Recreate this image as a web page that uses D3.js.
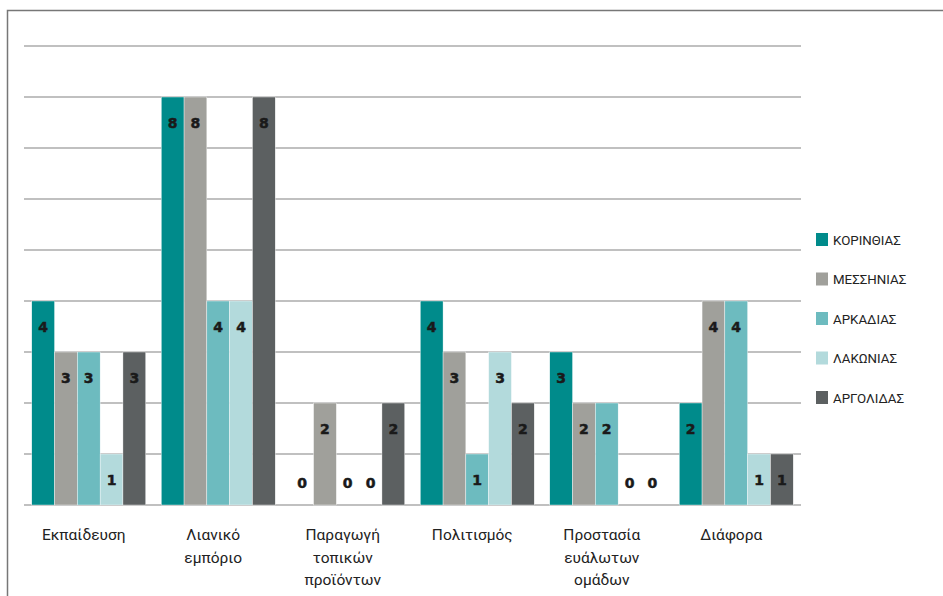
<!DOCTYPE html>
<html>
<head>
<meta charset="utf-8">
<script src="https://cdn.jsdelivr.net/npm/d3@7"></script>
<style>
  body { margin: 0; background: #fff; }
  svg { display: block; }
</style>
</head>
<body>
<div id="chart"></div>
<script>
var width = 943;
var height = 596;

// data
var categories = ["Εκπαίδευση", "Λιανικό εμπόριο", "Παραγωγή τοπικών προϊόντων", "Πολιτισμός", "Προστασία ευάλωτων ομάδων", "Διάφορα"];
var categoryLines = [["Εκπαίδευση"], ["Λιανικό", "εμπόριο"], ["Παραγωγή", "τοπικών", "προϊόντων"], ["Πολιτισμός"], ["Προστασία", "ευάλωτων", "ομάδων"], ["Διάφορα"]];
var regions = ["ΚΟΡΙΝΘΙΑΣ", "ΜΕΣΣΗΝΙΑΣ", "ΑΡΚΑΔΙΑΣ", "ΛΑΚΩΝΙΑΣ", "ΑΡΓΟΛΙΔΑΣ"];
var korinthias = [4, 8, 0, 4, 3, 2];
var messinias = [3, 8, 2, 3, 2, 4];
var arkadias = [3, 4, 0, 1, 2, 4];
var lakonias = [1, 4, 0, 3, 0, 1];
var argolidas = [3, 8, 2, 2, 0, 1];
var yTicks = [1, 2, 3, 4, 5, 6, 7, 8, 9];

var colors = ["#008b8b", "#a0a09b", "#6dbbbf", "#b3dadc", "#5c6061"];
var series = [korinthias, messinias, arkadias, lakonias, argolidas];

var rows = categories.map(function(c, i){
  return { cat: c, lines: categoryLines[i], values: series.map(function(s, j){ return { key: regions[j], value: s[i] }; }) };
});

var svg = d3.select("#chart")
  .append("svg")
  .attr("width", width)
  .attr("height", height);

// outer frame
svg.append("rect")
  .attr("x", 7.5)
  .attr("y", 10.5)
  .attr("width", 1000)
  .attr("height", 700)
  .attr("fill", "none")
  .attr("stroke", "#777")
  .attr("stroke-width", 1.5);

var x0 = d3.scaleBand()
  .domain(categories)
  .range([24, 801])
  .paddingInner(0.12)
  .paddingOuter(0.06);

var x1 = d3.scaleBand()
  .domain(regions)
  .range([0, x0.bandwidth()]);

var y = d3.scaleLinear()
  .domain([0, 9])
  .range([505, 46]);

var color = d3.scaleOrdinal().domain(regions).range(colors);

// gridlines
svg.append("g")
  .selectAll("line")
  .data([0].concat(yTicks))
  .enter()
  .append("line")
  .attr("x1", 24)
  .attr("x2", 801)
  .attr("y1", function(d){ return y(d); })
  .attr("y2", function(d){ return y(d); })
  .attr("stroke", "#ababab")
  .attr("stroke-width", 1.6);

var groups = svg.append("g")
  .selectAll("g")
  .data(rows)
  .enter()
  .append("g")
  .attr("transform", function(d){ return "translate(" + x0(d.cat) + ",0)"; });

groups.selectAll("rect")
  .data(function(d){ return d.values; })
  .enter()
  .append("rect")
  .attr("x", function(d){ return x1(d.key); })
  .attr("width", x1.bandwidth())
  .attr("y", function(d){ return y(d.value); })
  .attr("height", function(d){ return y(0) - y(d.value); })
  .attr("fill", function(d){ return color(d.key); })
  .attr("stroke", "#fff")
  .attr("stroke-width", 0.4);

groups.selectAll("text")
  .data(function(d){ return d.values; })
  .enter()
  .append("text")
  .attr("x", function(d){ return x1(d.key) + x1.bandwidth() / 2; })
  .attr("y", function(d){ return d.value > 0 ? y(d.value) + 26 : y(0) - 22; })
  .attr("dy", "0.35em")
  .attr("text-anchor", "middle")
  .attr("font-family", "'DejaVu Sans', sans-serif")
  .attr("font-weight", "bold")
  .attr("font-size", 14)
  .attr("fill", "#1a1a1a")
  .attr("stroke", "#1a1a1a")
  .attr("stroke-width", 0.5)
  .text(function(d){ return d.value; });

// category labels
var catLabels = svg.append("g")
  .selectAll("text")
  .data(rows)
  .enter()
  .append("text")
  .attr("x", function(d){ return x0(d.cat) + x0.bandwidth() / 2 - 5; })
  .attr("y", 535)
  .attr("text-anchor", "middle")
  .attr("font-family", "Roboto, 'Noto Sans', sans-serif")
  .attr("font-size", 15.5)
  .attr("fill", "#222");

catLabels.selectAll("tspan")
  .data(function(d){ return d.lines; })
  .enter()
  .append("tspan")
  .attr("x", function(){ return d3.select(this.parentNode).attr("x"); })
  .attr("dy", function(d, i){ return i === 0 ? "0.35em" : 22.5; })
  .text(function(d){ return d; });

// legend
var legend = svg.append("g")
  .selectAll("g")
  .data(regions)
  .enter()
  .append("g")
  .attr("transform", function(d, i){ return "translate(816," + (240 + i * 39.5) + ")"; });

legend.append("rect")
  .attr("x", 0)
  .attr("y", -7)
  .attr("width", 12)
  .attr("height", 13)
  .attr("fill", function(d){ return color(d); });

legend.append("text")
  .attr("x", 17)
  .attr("y", 0)
  .attr("dy", "0.35em")
  .attr("font-family", "Roboto, 'Noto Sans', sans-serif")
  .attr("font-size", 13.3)
  .attr("fill", "#222")
  .text(function(d){ return d; });
</script>
</body>
</html>
